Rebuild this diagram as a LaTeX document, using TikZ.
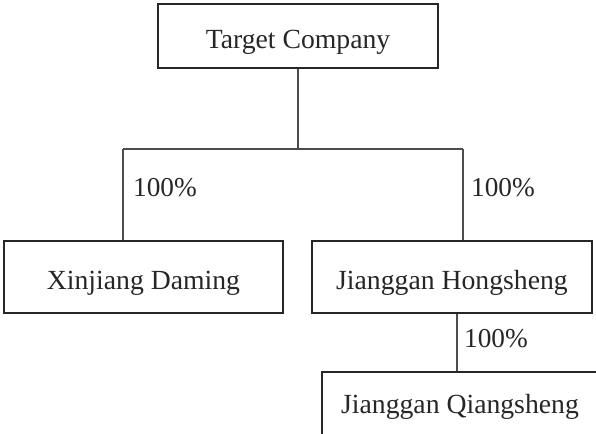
\documentclass[tikz,border=0pt]{standalone}
\usepackage{fontspec}
\setmainfont{Liberation Serif}
\begin{document}
\begin{tikzpicture}[x=1pt,y=-1pt,
  box/.style={draw=black!85,line width=1.3pt,inner sep=0pt,
    font=\fontsize{27.7}{32}\selectfont,text=black!85,
    text height=24pt,text depth=0pt},
  conn/.style={draw=black!70,line width=1.3pt},
  pct/.style={font=\fontsize{27.3}{32}\selectfont,text=black!85,inner sep=0pt}]
\useasboundingbox (0,0) rectangle (596,433);
\clip (0,0) rectangle (596,433);
\node[box,minimum width=280pt,minimum height=64pt,text height=26pt] (T) at (298,36) {Target Company};
\node[box,minimum width=279pt,minimum height=72pt] (X) at (143.5,277) {Xinjiang Daming};
\node[box,minimum width=280pt,minimum height=72pt] (H) at (452,277) {Jianggan Hongsheng};
\node[box,minimum width=276pt,minimum height=73pt,text height=9pt] (Q) at (460,408.5) {Jianggan Qiangsheng};
\coordinate (jl) at (123,149);
\coordinate (jr) at (463,149);
\coordinate (hq) at (457,340);
\draw[conn] (T.south) -- (T.south |- jl);
\draw[conn] (jl) -- (jr);
\draw[conn] (jl) -- (jl |- X.north);
\draw[conn] (jr) -- (jr |- H.north);
\draw[conn] (hq |- H.south) -- (hq |- Q.north);
\node[pct] (p1) at (165,188) {100\%};
\node[pct] (p2) at (503,188) {100\%};
\node[pct] (p3) at (496,339) {100\%};
\end{tikzpicture}
\end{document}
